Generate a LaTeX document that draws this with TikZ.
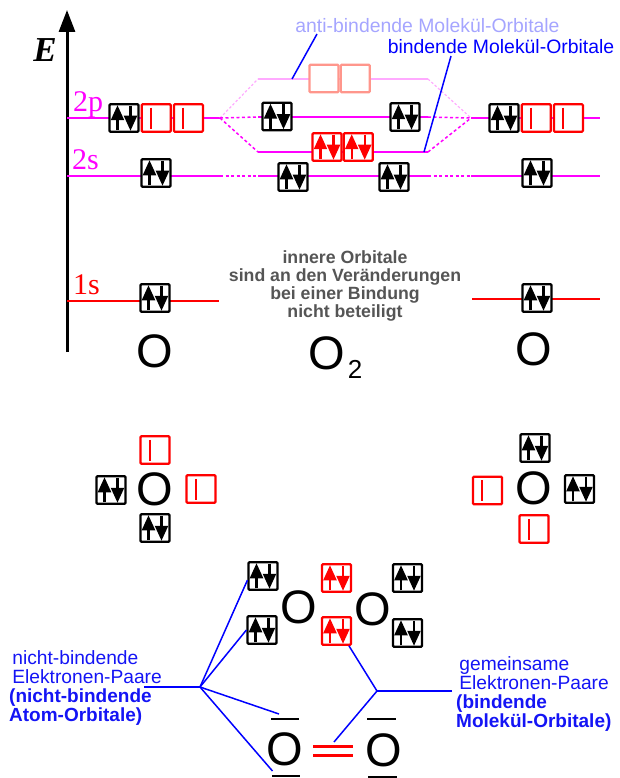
\documentclass[tikz,border=0pt]{standalone}
\usepackage{fontspec}
\setmainfont{Liberation Sans}
\newfontfamily\timesfont{Liberation Serif}
\usetikzlibrary{positioning,arrows.meta}
\definecolor{levelpink}{RGB}{255,0,255}
\definecolor{palepink}{RGB}{255,170,255}
\definecolor{paleblue}{RGB}{165,165,255}
\definecolor{palered}{RGB}{255,150,140}
\definecolor{notegray}{RGB}{85,85,85}
\definecolor{noteblue}{RGB}{20,20,245}

\begin{document}
\begin{tikzpicture}[
    x=1pt,
    y=-1pt,
    orbital/.style={
        rectangle,
        draw,
        fill=white,
        rounded corners=1pt,
        line width=2.2pt,
        minimum width=29pt,
        minimum height=27.5pt,
        inner sep=0pt
    },
    pair/.style={
        orbital,
        draw=#1,
        path picture={
            \draw [#1, line width=2.2pt, -{Triangle[width=13pt,length=15pt]}]
                ([xshift=-6.5pt,yshift=1.5pt]path picture bounding box.south) -- ++(0,-25);
            \draw [#1, line width=2.2pt, -{Triangle[width=13pt,length=15pt]}]
                ([xshift=6.5pt,yshift=-1.5pt]path picture bounding box.north) -- ++(0,25);
        }
    },
    pair/.default=black,
    single/.style={
        orbital,
        draw=red,
        path picture={
            \draw [red, line width=2pt]
                ([xshift=-5.5pt,yshift=-3.5pt]path picture bounding box.north) -- ++(0,21);
        }
    },
    empty/.style={
        orbital,
        draw=palered
    },
    level/.style={
        draw,
        line width=2pt,
        color=levelpink
    },
    faded/.style={
        draw,
        line width=2pt,
        color=palepink
    },
    dots/.style={
        draw,
        line width=1.5pt,
        dash pattern=on 3pt off 2.5pt,
        color=levelpink
    },
    fadeddots/.style={
        draw,
        line width=1.2pt,
        dash pattern=on 2.5pt off 2pt,
        color=palepink
    },
    inner/.style={
        draw,
        line width=2pt,
        color=red
    },
    pointer/.style={
        draw,
        line width=1.5pt,
        color=blue
    },
    bond/.style={
        draw,
        line width=2.5pt
    },
    atom/.style={
        font=\fontsize{47}{47}\selectfont,
        inner sep=0pt
    },
    shell/.style={
        font=\timesfont\fontsize{30}{30}\selectfont,
        anchor=base west,
        inner sep=0pt
    },
    note/.style={
        align=left,
        anchor=north west,
        inner sep=0pt,
        color=noteblue,
        font=\fontsize{19.2}{19}\selectfont
    }
]
    \useasboundingbox (0,0) rectangle (619,778);

    % Energy axis
    \coordinate (axisfoot) at (67,352);
    \coordinate (axistop) at (67,10);
    \draw [line width=3pt, -{Triangle[width=16pt,length=22pt]}] (axisfoot) -- (axistop);
    \node [font=\timesfont\bfseries\itshape\fontsize{35}{35}\selectfont, inner sep=0pt] (energy) at (45,50) {E};

    % Level end points
    \coordinate (p2a) at (67,118);
    \coordinate (p2b) at (220,118);
    \coordinate (s2a) at (67,176);
    \coordinate (s2b) at (220,176);
    \coordinate (s1a) at (67,301);
    \coordinate (s1b) at (219,301);
    \coordinate (p2c) at (471,118);
    \coordinate (p2d) at (600,118);
    \coordinate (s2c) at (471,176);
    \coordinate (s2d) at (600,176);
    \coordinate (s1c) at (472,299);
    \coordinate (s1d) at (600,299);
    \coordinate (antia) at (258,79);
    \coordinate (antib) at (428,79);
    \coordinate (nba) at (258,117);
    \coordinate (nbb) at (428,117);
    \coordinate (boa) at (258,152);
    \coordinate (bob) at (428,152);
    \coordinate (msa) at (258,176);
    \coordinate (msb) at (428,176);

    % Levels
    \path [level] (p2a) -- (p2b);
    \path [level] (s2a) -- (s2b);
    \path [level] (p2c) -- (p2d);
    \path [level] (s2c) -- (s2d);
    \path [level] (nba) -- (nbb);
    \path [level] (boa) -- (bob);
    \path [level] (msa) -- (msb);
    \path [faded] (antia) -- (antib);
    \path [inner] (s1a) -- (s1b);
    \path [inner] (s1c) -- (s1d);

    % Links between levels
    \path [fadeddots] (p2b) -- (antia);
    \path [dots] (p2b) -- (nba);
    \path [dots] (p2b) -- (boa);
    \path [dots] (s2b) -- (msa);
    \path [fadeddots] (antib) -- (p2c);
    \path [dots] (nbb) -- (p2c);
    \path [dots] (bob) -- (p2c);
    \path [dots] (msb) -- (s2c);

    % Shell labels
    \node [shell, color=levelpink] (lab2p) at (73,112) {2p};
    \node [shell, color=levelpink] (lab2s) at (72,169) {2s};
    \node [shell, color=red] (lab1s) at (73,294) {1s};

    % Left atom
    \node [pair] (lp) at (124,118) {};
    \node [single, right=1pt of lp] (lpx) {};
    \node [single, right=1pt of lpx] (lpy) {};
    \node [pair] (ls) at (156,173) {};
    \node [pair] (lc) at (155,298) {};
    \node [atom] (latom) at (155,351) {O};

    % Molecule
    \node [empty] (anx) at (324,78.5) {};
    \node [empty, right=0pt of anx] (any) {};
    \node [pair] (nbx) at (277,116.5) {};
    \node [pair] (nby) at (405,117) {};
    \node [pair=red] (box) at (327,147) {};
    \node [pair=red, right=0pt of box] (boy) {};
    \node [pair] (msx) at (293,177) {};
    \node [pair] (msy) at (394,177) {};
    \node [atom] (matom) at (327,353) {O};
    \node [font=\fontsize{26}{26}\selectfont, inner sep=0pt] (msub) at (355,369) {2};

    % Right atom
    \node [pair] (rp) at (504,118) {};
    \node [single, right=1pt of rp] (rpx) {};
    \node [single, right=1pt of rpx] (rpy) {};
    \node [pair] (rs) at (537,173) {};
    \node [pair] (rc) at (537,298) {};
    \node [atom] (ratom) at (534,349) {O};

    % Orbital captions
    \node [font=\fontsize{19.4}{20}\selectfont, color=paleblue, inner sep=0pt] (antilab) at (427.5,26) {anti-bindende Molekül-Orbitale};
    \node [font=\fontsize{19.4}{20}\selectfont, color=blue, inner sep=0pt] (bolab) at (501,47) {bindende Molekül-Orbitale};
    \coordinate (antitip) at (317,34);
    \coordinate (antifoot) at (292,79);
    \coordinate (botip) at (451,56);
    \coordinate (bofoot) at (424,152);
    \path [pointer] (antifoot) -- (antitip);
    \path [pointer] (bofoot) -- (botip);
    \node [align=center, color=notegray, font=\bfseries\fontsize{17.7}{18}\selectfont, inner sep=0pt] (innerlab) at (345,286)
        {innere Orbitale\\sind an den Veränderungen\\bei einer Bindung\\nicht beteiligt};

    % Separate atoms
    \node [atom] (ao) at (155,489) {O};
    \node [single] (aup) at (155,450) {};
    \node [pair] (aleft) at (111,490) {};
    \node [single] (aright) at (201,489) {};
    \node [pair] (adown) at (155,528) {};
    \node [atom] (bo) at (534,488) {O};
    \node [pair] (bup) at (535,448) {};
    \node [single] (bleft) at (487.5,490.5) {};
    \node [pair] (bright) at (579.5,489) {};
    \node [single] (bdown) at (534,529) {};

    % Shared pairs
    \node [atom] (co) at (299,607) {O};
    \node [atom] (do) at (372.5,609) {O};
    \node [pair] (cup) at (263,576) {};
    \node [pair] (cdown) at (262,630) {};
    \node [pair=red] (sup) at (336.5,578) {};
    \node [pair=red] (sdown) at (336.5,631) {};
    \node [pair] (dup) at (407.5,578) {};
    \node [pair] (ddown) at (407.5,633) {};

    % Line formula
    \node [atom] (eo) at (285,749) {O};
    \node [atom] (fo) at (384,750) {O};
    \coordinate (ebara) at (271,719);
    \coordinate (ebarb) at (299,719);
    \coordinate (ebarc) at (272,776);
    \coordinate (ebard) at (300,776);
    \coordinate (fbara) at (367,719);
    \coordinate (fbarb) at (396,719);
    \coordinate (fbarc) at (368,777);
    \coordinate (fbard) at (397,777);
    \coordinate (dbla) at (313,746);
    \coordinate (dblb) at (353,746);
    \coordinate (dblc) at (313,755);
    \coordinate (dbld) at (353,755);
    \path [bond] (ebara) -- (ebarb);
    \path [bond] (ebarc) -- (ebard);
    \path [bond] (fbara) -- (fbarb);
    \path [bond] (fbarc) -- (fbard);
    \path [bond, color=red, line width=3pt] (dbla) -- (dblb);
    \path [bond, color=red, line width=3pt] (dblc) -- (dbld);

    % Lower captions
    \node [note] (lonelab) at (9,650) {\,nicht-bindende\\\,Elektronen-Paare\\\textbf{\fontsize{19}{19}\selectfont(nicht-bindende}\\\textbf{\fontsize{19}{19}\selectfont Atom-Orbitale)}};
    \node [note] (sharedlab) at (456,656) {\,gemeinsame\\\,Elektronen-Paare\\\textbf{\fontsize{19}{19}\selectfont(bindende}\\\textbf{\fontsize{19}{19}\selectfont Molekül-Orbitale)}};

    % Pointer fans
    \coordinate (lonehub) at (200,687);
    \coordinate (lonetail) at (144,687);
    \coordinate (lonebar) at (279,714);
    \coordinate (lonefoot) at (272.5,771);
    \coordinate (sharedhub) at (377,691);
    \coordinate (sharedtail) at (452,691);
    \coordinate (sharedfoot) at (334,742);
    \path [pointer] (lonetail) -- (lonehub);
    \path [pointer] (lonehub) -- (cup.195);
    \path [pointer] (lonehub) -- (cdown.west);
    \path [pointer] (lonehub) -- (lonebar);
    \path [pointer] (lonehub) -- (lonefoot);
    \path [pointer] (sharedtail) -- (sharedhub);
    \path [pointer] (sharedhub) -- (sdown.-50);
    \path [pointer] (sharedhub) -- (sharedfoot);
\end{tikzpicture}
\end{document}
